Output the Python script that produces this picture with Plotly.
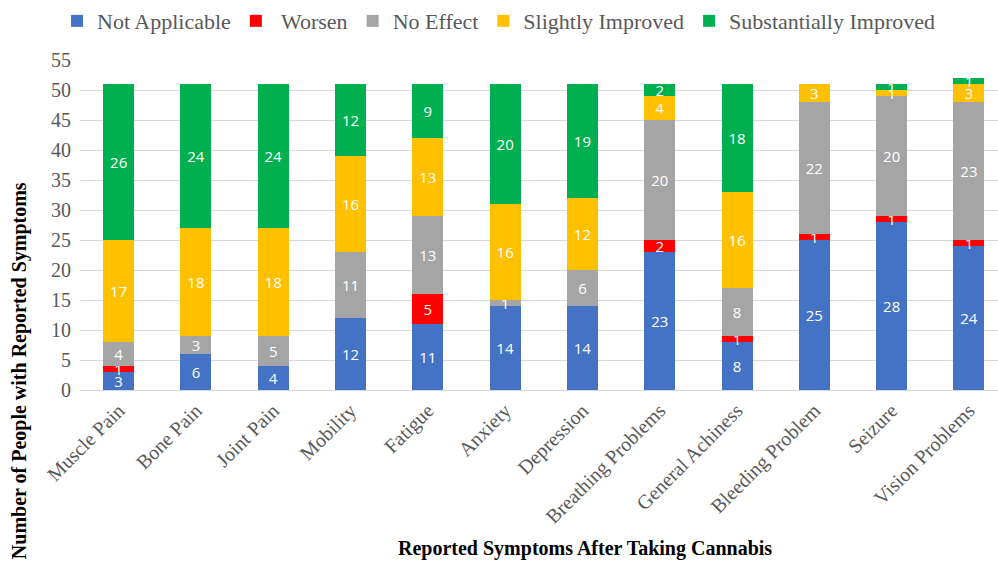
import plotly.graph_objects as go

categories = ["Muscle Pain", "Bone Pain", "Joint Pain", "Mobility", "Fatigue",
              "Anxiety", "Depression", "Breathing Problems", "General Achiness",
              "Bleeding Problem", "Seizure", "Vision Problems"]

not_applicable = [3, 6, 4, 12, 11, 14, 14, 23, 8, 25, 28, 24]
worsen = [1, 0, 0, 0, 5, 0, 0, 2, 1, 1, 1, 1]
no_effect = [4, 3, 5, 11, 13, 1, 6, 20, 8, 22, 20, 23]
slightly_improved = [17, 18, 18, 16, 13, 16, 12, 4, 16, 3, 1, 3]
substantially_improved = [26, 24, 24, 12, 9, 20, 19, 2, 18, 0, 1, 1]

series = [
    ("Not Applicable", not_applicable, "#4472C4"),
    (" Worsen", worsen, "#FF0000"),
    ("No Effect", no_effect, "#A5A5A5"),
    ("Slightly Improved", slightly_improved, "#FFC000"),
    ("Substantially Improved", substantially_improved, "#00B050"),
]

serif = "Liberation Serif"

fig = go.Figure()
for name, vals, color in series:
    fig.add_trace(go.Bar(
        name=name,
        x=categories,
        y=vals,
        marker=dict(color=color, line=dict(width=0)),
        text=[str(v) if v else "" for v in vals],
        textposition="inside",
        insidetextanchor="middle",
        textangle=0,
        textfont=dict(family="Open Sans", size=15, color="white"),
        cliponaxis=False,
    ))

fig.update_layout(
    barmode="stack",
    bargap=0.6,
    width=998,
    height=564,
    margin=dict(l=80, r=0, t=60, b=174),
    paper_bgcolor="white",
    plot_bgcolor="white",
    uniformtext=dict(minsize=15, mode="show"),
    showlegend=True,
    legend=dict(
        orientation="h",
        x=-0.025, xref="paper", xanchor="left",
        y=1.118, yref="paper", yanchor="middle",
        font=dict(family=serif, size=22, color="#595959"),
        itemwidth=30,
        traceorder="normal",
    ),
    xaxis=dict(
        range=[-0.5, 11.376],
        tickangle=-45,
        tickfont=dict(family=serif, size=20, color="#595959"),
        showgrid=False,
        showline=True,
        linecolor="#D9D9D9",
        linewidth=1,
        ticks="",
    ),
    yaxis=dict(
        range=[0, 55],
        dtick=5,
        tickfont=dict(family=serif, size=20, color="#595959"),
        showgrid=True,
        gridcolor="#D9D9D9",
        gridwidth=1,
        zeroline=False,
        showline=False,
        ticks="",
        ticklabelstandoff=8,
    ),
    annotations=[
        dict(text="<b>Number of People with Reported Symptoms</b>",
             xref="paper", yref="paper", x=-0.065, y=0.058,
             xanchor="center", yanchor="middle", textangle=-90,
             showarrow=False, font=dict(family=serif, size=20, color="black")),
        dict(text="<b>Reported Symptoms After Taking Cannabis</b>",
             xref="paper", yref="paper", x=0.55, y=-0.48,
             xanchor="center", yanchor="middle",
             showarrow=False, font=dict(family=serif, size=20, color="black")),
    ],
)

fig.write_html("out.html")
